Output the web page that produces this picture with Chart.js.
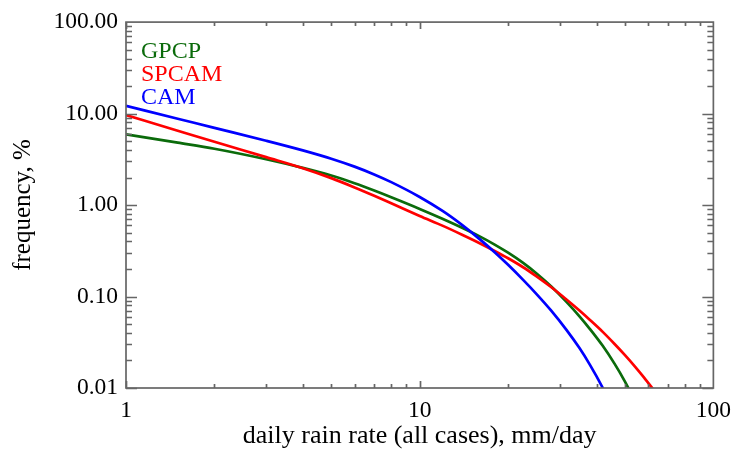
<!DOCTYPE html>
<html>
<head>
<meta charset="utf-8">
<script src="https://cdn.jsdelivr.net/npm/chart.js@4"></script>
<style>
  html, body { margin: 0; padding: 0; background: #fff; }
  #wrap { width: 740px; height: 452px; }
</style>
</head>
<body>
<div id="wrap"><canvas id="rain"></canvas></div>
<script>
// daily rain rate, mm/day
const rainRate = [1, 1.5, 2, 3, 4, 5, 6, 7, 8, 10, 12, 14, 16, 18, 20, 22.5, 25, 28, 31.6, 35, 38, 42, 46, 50, 54, 58, 63];

// frequency, %
const freqGPCP  = [5.93, 4.81, 4.13, 3.17, 2.55, 2.10, 1.73, 1.44, 1.217, 0.908, 0.705, 0.562, 0.455, 0.370, 0.3015, 0.233, 0.1786, 0.1294, 0.0874, 0.0608, 0.0441, 0.0289, 0.01857, 0.01177, 0.00724, null, null];
const freqSPCAM = [9.62, 6.50, 4.92, 3.34, 2.53, 1.97, 1.56, 1.265, 1.047, 0.760, 0.592, 0.471, 0.383, 0.315, 0.262, 0.209, 0.166, 0.127, 0.0929, 0.0704, 0.0555, 0.0411, 0.0305, 0.0229, 0.01728, 0.01308, 0.00927];
const freqCAM   = [12.16, 8.79, 6.98, 5.05, 3.96, 3.21, 2.63, 2.16, 1.78, 1.225, 0.856, 0.599, 0.424, 0.305, 0.222, 0.152, 0.1064, 0.0705, 0.0432, 0.0273, 0.0179, 0.01005, 0.0055, null, null, null, null];

const yTicks = [0.01, 0.1, 1, 10, 100];
const xTicks = [1, 10, 100];

const seriesNames = ['GPCP', 'SPCAM', 'CAM'];
const seriesColors = ['#0b6b0b', '#ff0000', '#0000ff'];

const serif = '"Liberation Serif", "DejaVu Serif", serif';
const axisColor = '#666666';

function toPoints(vals) {
    return rainRate.map((r, i) => ({ x: r, y: vals[i] }));
}

// frame, inward IDL-style ticks and the coloured legend text
const frameTicks = {
    id: 'frameTicks',
    afterDatasetsDraw(chart) {
        const ctx = chart.ctx;
        const a = chart.chartArea;
        const xs = chart.scales.x, ys = chart.scales.y;
        ctx.save();
        ctx.strokeStyle = axisColor;
        ctx.lineWidth = 1.7;
        ctx.strokeRect(a.left, a.top, a.right - a.left, a.bottom - a.top);

        ctx.beginPath();
        // y axis ticks (left and right sides)
        for (let d = 0.01; d < 100; d *= 10) {
            for (let k = 1; k < 10; k++) {
                const py = Math.round(ys.getPixelForValue(d * k)) + 0.5;
                const len = k === 1 ? 11 : 6;
                ctx.moveTo(a.left, py); ctx.lineTo(a.left + len, py);
                ctx.moveTo(a.right, py); ctx.lineTo(a.right - len, py);
            }
        }
        // x axis ticks (bottom and top)
        for (let d = 1; d < 100; d *= 10) {
            for (let k = 1; k < 10; k++) {
                const px = Math.round(xs.getPixelForValue(d * k)) + 0.5;
                const len = k === 1 ? 7 : 4;
                ctx.moveTo(px, a.bottom); ctx.lineTo(px, a.bottom - len);
                ctx.moveTo(px, a.top); ctx.lineTo(px, a.top + len);
            }
        }
        ctx.stroke();

        ctx.font = '24px ' + serif;
        ctx.textBaseline = 'middle';
        ctx.textAlign = 'left';
        seriesNames.forEach((name, i) => {
            ctx.fillStyle = seriesColors[i];
            ctx.fillText(name, a.left + 15, a.top + 30 + i * 22.8);
        });
        ctx.restore();
    }
};

new Chart(document.getElementById('rain'), {
    type: 'line',
    data: {
        datasets: [
            { label: 'CAM',   data: toPoints(freqCAM),   borderColor: seriesColors[2] },
            { label: 'SPCAM', data: toPoints(freqSPCAM), borderColor: seriesColors[1] },
            { label: 'GPCP',  data: toPoints(freqGPCP),  borderColor: seriesColors[0] }
        ].map(ds => Object.assign(ds, {
            borderWidth: 2.7,
            pointRadius: 0,
            fill: false,
            cubicInterpolationMode: 'monotone',
            spanGaps: false
        }))
    },
    options: {
        responsive: true,
        maintainAspectRatio: false,
        animation: false,
        events: [],
        layout: { padding: { top: 14, right: 24, left: 0, bottom: 0 } },
        plugins: {
            legend: { display: false },
            tooltip: { enabled: false }
        },
        scales: {
            x: {
                type: 'logarithmic',
                min: 1,
                max: 100,
                grid: { display: false, drawTicks: false },
                border: { display: false },
                afterBuildTicks: (scale) => { scale.ticks = xTicks.map(v => ({ value: v })); },
                afterFit: (scale) => { scale.height = 64; },
                ticks: {
                    autoSkip: false,
                    maxRotation: 0,
                    padding: 9,
                    color: '#000',
                    font: { family: serif, size: 23.5 },
                    callback: (v) => String(v)
                },
                title: {
                    display: true,
                    text: 'daily rain rate (all cases), mm/day',
                    color: '#000',
                    font: { family: serif, size: 26 },
                    padding: { top: 0, bottom: 0 }
                }
            },
            y: {
                type: 'logarithmic',
                min: 0.01,
                max: 100,
                grid: { display: false, drawTicks: false },
                border: { display: false },
                afterBuildTicks: (scale) => { scale.ticks = yTicks.map(v => ({ value: v })); },
                afterFit: (scale) => { scale.width = 126; },
                ticks: {
                    autoSkip: false,
                    padding: 8,
                    color: '#000',
                    font: { family: serif, size: 23.5 },
                    callback: (v) => Number(v).toFixed(2)
                },
                title: {
                    display: true,
                    text: 'frequency, %',
                    color: '#000',
                    font: { family: serif, size: 25 },
                    padding: { top: 8, bottom: 0 }
                }
            }
        }
    },
    plugins: [frameTicks]
});
</script>
</body>
</html>
